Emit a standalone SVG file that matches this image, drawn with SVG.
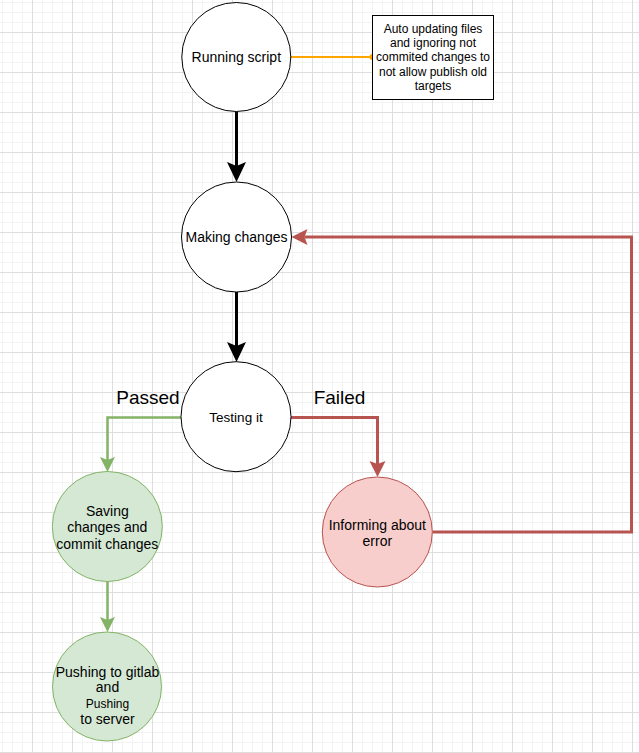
<svg xmlns="http://www.w3.org/2000/svg" width="639" height="753" viewBox="0 0 639 753">
<defs>
<pattern id="grid" x="-8" y="-8" width="40" height="40" patternUnits="userSpaceOnUse">
<rect x="0" y="0" width="40" height="40" fill="#ffffff"/>
<rect x="10" y="0" width="1" height="40" fill="#f3f3f3"/>
<rect x="20" y="0" width="1" height="40" fill="#f3f3f3"/>
<rect x="30" y="0" width="1" height="40" fill="#f3f3f3"/>
<rect x="0" y="10" width="40" height="1" fill="#f3f3f3"/>
<rect x="0" y="20" width="40" height="1" fill="#f3f3f3"/>
<rect x="0" y="30" width="40" height="1" fill="#f3f3f3"/>
<rect x="0" y="0" width="1" height="40" fill="#dedede"/>
<rect x="0" y="0" width="40" height="1" fill="#dedede"/>
</pattern>
<marker id="mk-black" viewBox="-10 -15 40 30" markerWidth="40" markerHeight="30" refX="0" refY="0" orient="auto" markerUnits="userSpaceOnUse">
<path d="M-4,-9.5 L16,0 L-4,9.5 L0,0 Z" fill="#000000"/>
</marker>
<marker id="mk-green" viewBox="-10 -15 40 30" markerWidth="40" markerHeight="30" refX="0" refY="0" orient="auto" markerUnits="userSpaceOnUse">
<path d="M-3,-7.5 L12,0 L-3,7.5 L0,0 Z" fill="#82b366"/>
</marker>
<marker id="mk-red" viewBox="-10 -15 40 30" markerWidth="40" markerHeight="30" refX="0" refY="0" orient="auto" markerUnits="userSpaceOnUse">
<path d="M-3,-8 L13,0 L-3,8 L0,0 Z" fill="#b85450"/>
</marker>
</defs>
<style>
text { font-family: "Liberation Sans", Arial, sans-serif; fill: #000000; text-anchor: middle; }
.t14 { font-size: 14px; }
.t12 { font-size: 12px; }
.t13 { font-size: 13.5px; }
.lbl { font-size: 19px; }
.plain { fill: #ffffff; stroke: #000000; stroke-width: 1; }
.green { fill: #d5e8d4; stroke: #82b366; stroke-width: 1; }
.red { fill: #f8cecc; stroke: #b85450; stroke-width: 1; }
.c-black { fill: none; stroke: #000000; stroke-width: 3; }
.c-green { fill: none; stroke: #82b366; stroke-width: 2.5; }
.c-red { fill: none; stroke: #b85450; stroke-width: 3; }
.c-orange { fill: none; stroke: #ffa500; stroke-width: 2; }
</style>
<rect x="0" y="0" width="639" height="753" fill="url(#grid)"/>

<g id="connectors">
<path class="c-orange" d="M290.5,57 L372.5,57"/>
<circle cx="372.5" cy="57" r="3" fill="#ffa500"/>
<path class="c-black" d="M236.5,111.5 L236.5,166" marker-end="url(#mk-black)"/>
<path class="c-black" d="M236.5,292 L236.5,346" marker-end="url(#mk-black)"/>
<path class="c-green" d="M181,417.5 L107.5,417.5 L107.5,460" marker-end="url(#mk-green)"/>
<path class="c-green" d="M107.5,581 L107.5,620" marker-end="url(#mk-green)"/>
<path class="c-red" d="M291,417.5 L377.5,417.5 L377.5,464" marker-end="url(#mk-red)"/>
<path class="c-red" d="M432.5,532 L631.5,532 L631.5,237 L304.5,237" marker-end="url(#mk-red)"/>
</g>

<g id="label-passed"><text class="lbl" x="148" y="404">Passed</text></g>
<g id="label-failed"><text class="lbl" x="339.5" y="404">Failed</text></g>

<g id="node-note">
<rect x="372.5" y="15.5" width="121" height="84" fill="#ffffff" stroke="#000000" stroke-width="1"/>
<text class="t12" x="433" y="32.6">Auto updating files</text>
<text class="t12" x="433" y="47">and ignoring not</text>
<text class="t12" x="433" y="61.4">commited changes to</text>
<text class="t12" x="433" y="75.8">not allow publish old</text>
<text class="t12" x="433" y="90.2">targets</text>
</g>

<g id="node-running">
<circle class="plain" cx="236.3" cy="57" r="54.5"/>
<text class="t14" x="236.3" y="62">Running script</text>
</g>

<g id="node-making">
<circle class="plain" cx="236.5" cy="237" r="55"/>
<text class="t14" x="236.5" y="242">Making changes</text>
</g>

<g id="node-testing">
<circle class="plain" cx="236" cy="416.7" r="55"/>
<text class="t13" x="236" y="422">Testing it</text>
</g>

<g id="node-saving">
<circle class="green" cx="107.3" cy="526.5" r="55"/>
<text class="t14" x="107.3" y="515.5">Saving</text>
<text class="t14" x="107.3" y="532">changes and</text>
<text class="t14" x="107.3" y="548.5">commit changes</text>
</g>

<g id="node-informing">
<circle class="red" cx="377.3" cy="532" r="55"/>
<text class="t14" x="377.3" y="529.5">Informing about</text>
<text class="t14" x="377.3" y="546">error</text>
</g>

<g id="node-pushing">
<circle class="green" cx="107" cy="686.5" r="54.5"/>
<text class="t14" x="107.5" y="677">Pushing to gitlab</text>
<text class="t14" x="107.5" y="692">and</text>
<text class="t12" x="107.5" y="708">Pushing</text>
<text class="t14" x="107.5" y="723.5">to server</text>
</g>
</svg>
